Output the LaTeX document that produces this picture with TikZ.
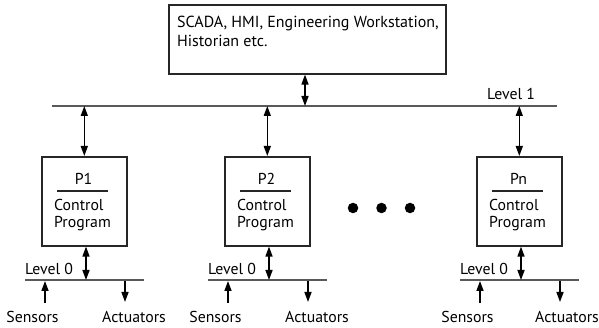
\documentclass[tikz,border=0pt]{standalone}
\usepackage{fontspec}
\setmainfont{PT Sans}
\usetikzlibrary{arrows.meta}
\begin{document}
\begin{tikzpicture}[x=1pt,y=-1pt,
  lbl/.style={font=\fontsize{15.8}{18}\selectfont, inner sep=0pt},
  toplbl/.style={lbl, font=\fontsize{16}{19}\selectfont},
  boxstyle/.style={draw=black!85, line width=1.6pt, inner sep=0pt, anchor=north west},
  proc/.style={boxstyle, minimum width=85pt, minimum height=89pt},
  bus/.style={draw=black!65, line width=2pt},
  tipstyle/.tip={Triangle[length=10pt,width=7pt]},
  link/.style={line width=1.5pt, tipstyle-tipstyle},
  uplink/.style={line width=1.5pt, -tipstyle},
  rulestyle/.style={line width=1.2pt, draw=black!85},
  dotstyle/.style={circle, fill=black, inner sep=0pt, minimum size=10.5pt}
]
\useasboundingbox[fill=white] (0,0) rectangle (599,328);

% top box
\node[boxstyle, minimum width=277pt, minimum height=69pt] (top) at (168,4) {};
\node[toplbl, anchor=base west] (topa) at (177,28) {SCADA, HMI, Engineering Workstation,};
\node[toplbl, anchor=base west] (topb) at (177,47) {Historian etc.};

% level 1 bus
\coordinate (b1l) at (52,106);
\coordinate (b1r) at (557,106);
\draw[bus] (b1l) -- (b1r);
\node[lbl, anchor=base west] (lv1) at (487,100) {Level 1};
\coordinate (tb) at (305,106);
\draw[link] (top.south -| tb) -- (tb);

\foreach \L/\n/\t/\ax in {41/a/P1/93,224/b/P2/93,476/c/Pn/91}{
  \node[proc] (box\n) at (\L,156) {};
  \draw[link] (box\n.north) -- (box\n.north |- b1l);
  \node[lbl, anchor=base] (pl\n) at (\L+42.5,185) {\t};
  \coordinate (rl\n) at (\L+16,191);
  \coordinate (rr\n) at (\L+67,191);
  \draw[rulestyle] (rl\n) -- (rr\n);
  \node[lbl, anchor=base west] (cc\n) at (\L+13,211) {Control};
  \node[lbl, anchor=base west] (pp\n) at (\L+13,228) {Program};
  % level 0 bus
  \coordinate (b0l\n) at (\L-16,280);
  \coordinate (b0r\n) at (\L+103,280);
  \draw[bus] (b0l\n) -- (b0r\n);
  \node[lbl, anchor=base west] (lv\n) at (\L-16,275) {Level 0};
  \coordinate (d\n) at (\L+45,280);
  \draw[link] (box\n.south -| d\n) -- (d\n);
  % sensors
  \coordinate (s0\n) at (\L+4,303);
  \coordinate (s1\n) at (\L+4,281);
  \draw[uplink] (s0\n) -- (s1\n);
  \node[lbl, anchor=base] (sn\n) at (\L-8.5,323) {Sensors};
  % actuators
  \coordinate (a0\n) at (\L+84,281);
  \coordinate (a1\n) at (\L+84,302);
  \draw[uplink] (a0\n) -- (a1\n);
  \node[lbl, anchor=base] (ac\n) at (\L+\ax,323) {Actuators};
}

\node[dotstyle] (dot1) at (353,208) {};
\node[dotstyle] (dot2) at (381.5,208) {};
\node[dotstyle] (dot3) at (410,208) {};
\end{tikzpicture}
\end{document}
